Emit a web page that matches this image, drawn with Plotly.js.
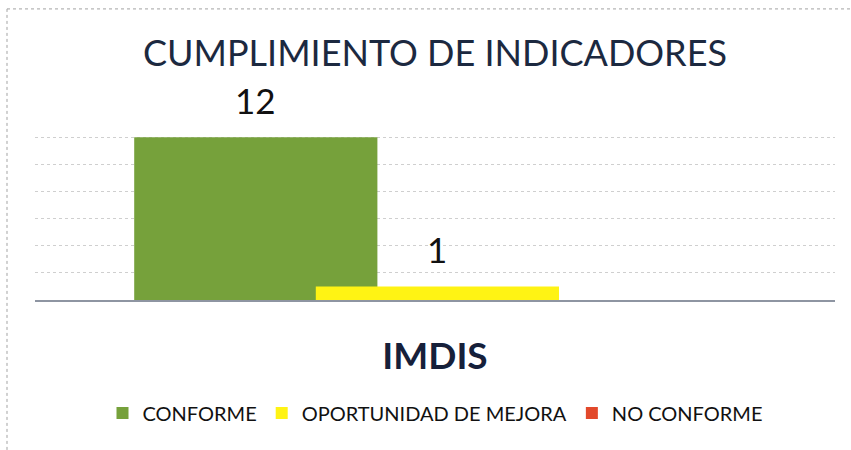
<!DOCTYPE html>
<html>
<head>
<meta charset="utf-8">
<script src="https://cdn.plot.ly/plotly-3.0.1.min.js"></script>
<style>html,body{margin:0;padding:0;background:#fff;}#chart{width:851px;height:450px;}</style>
</head>
<body>
<div id="chart"></div>
<script>
// ---- data ----
const categories = ["IMDIS"];
const seriesNames = ["CONFORME", "OPORTUNIDAD DE MEJORA", "NO CONFORME"];
const conforme = [12];
const oportunidad = [1];
const noConforme = [0];
const chartTitle = "CUMPLIMIENTO DE INDICADORES";

// ---- styling ----
const FONT = 'Lato, "Open Sans", sans-serif';
const colors = ["#76a13b", "#fff314", "#e2492b"];
const values = [conforme, oportunidad, noConforme];
const barWidth = 0.304;
const offsets = [-0.376, -0.149, 0.078];

const traces = values.map((v, i) => ({
  type: "bar",
  name: seriesNames[i],
  x: categories,
  y: v,
  width: barWidth,
  offset: offsets[i],
  marker: {color: colors[i], line: {width: 0}},
  hoverinfo: "name+y"
}));

const annotations = [];
values.forEach((v, i) => {
  v.forEach((val, j) => {
    if (val !== 0) {
      annotations.push({
        x: j + offsets[i] + barWidth / 2,
        y: val,
        xref: "x", yref: "y",
        text: String(val),
        showarrow: false,
        yanchor: "bottom",
        yshift: 14,
        font: {family: FONT, size: 35, color: "#111111"}
      });
    }
  });
});

const layout = {
  width: 851,
  height: 450,
  margin: {l: 35, r: 16, t: 110, b: 150},
  paper_bgcolor: "#ffffff",
  plot_bgcolor: "#ffffff",
  barmode: "overlay",
  showlegend: true,
  title: {
    text: chartTitle,
    x: 0.5, xanchor: "center", xref: "paper",
    y: 1 - 53 / 450, yanchor: "middle", yref: "container",
    font: {family: FONT, size: 36, color: "#1c2940"}
  },
  xaxis: {
    type: "category",
    range: [-0.5, 0.5],
    showgrid: false,
    showline: true,
    linecolor: "#8e95a2",
    linewidth: 2,
    ticks: "",
    ticklabelstandoff: 23,
    tickfont: {family: FONT, size: 37, color: "#16203a", weight: "bold"}
  },
  yaxis: {
    range: [0, 14],
    dtick: 2,
    showticklabels: false,
    showgrid: true,
    gridcolor: "#cfcfcf",
    griddash: "dot",
    gridwidth: 1,
    zeroline: false,
    showline: false
  },
  legend: {
    orientation: "h",
    x: 0.5, xanchor: "center",
    y: -0.595, yanchor: "middle",
    font: {family: FONT, size: 20, color: "#111111"},
    traceorder: "normal"
  },
  annotations: annotations,
  shapes: [
    {type: "line", xref: "paper", yref: "paper", x0: -0.035, x1: 1.02, y0: 1.532, y1: 1.532,
     line: {color: "#a3a3a3", width: 1, dash: "dot"}},
    {type: "line", xref: "paper", yref: "paper", x0: -0.035, x1: -0.035, y0: 1.532, y1: -0.8,
     line: {color: "#a3a3a3", width: 1, dash: "dot"}}
  ]
};

Plotly.newPlot("chart", traces, layout, {displayModeBar: false, staticPlot: true});
</script>
</body>
</html>
